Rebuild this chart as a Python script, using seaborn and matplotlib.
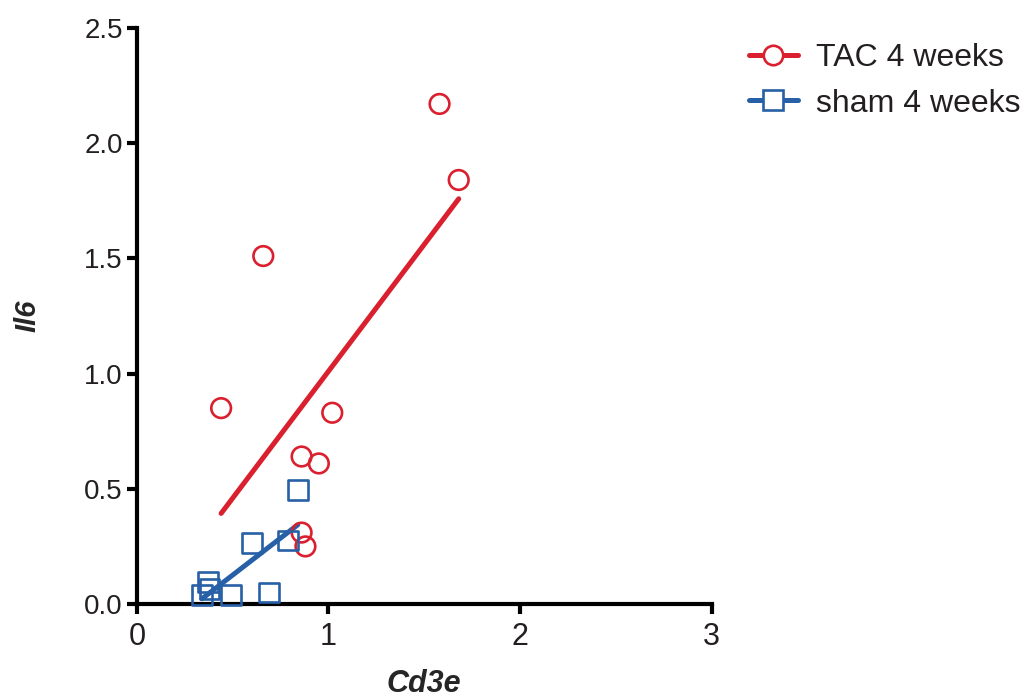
import numpy as np
import pandas as pd
import seaborn as sns
import matplotlib.pyplot as plt
from matplotlib.lines import Line2D

# values
tac_x = [1.58, 1.68, 0.66, 0.44, 1.02, 0.86, 0.95, 0.86, 0.88]
tac_y = [2.17, 1.84, 1.51, 0.85, 0.83, 0.64, 0.61, 0.31, 0.25]
sham_x = [0.37, 0.38, 0.34, 0.49, 0.69, 0.60, 0.79, 0.84]
sham_y = [0.095, 0.065, 0.04, 0.04, 0.05, 0.265, 0.275, 0.495]
groups = ["TAC 4 weeks", "sham 4 weeks"]
x_ticks = [0, 1, 2, 3]
y_ticks = [0.0, 0.5, 1.0, 1.5, 2.0, 2.5]


def main():
    sns.set_style("ticks")
    plt.rcParams["font.family"] = ["Liberation Sans", "DejaVu Sans"]
    plt.rcParams["text.color"] = "#231F20"
    plt.rcParams["xtick.color"] = "black"
    plt.rcParams["ytick.color"] = "black"

    red = "#DA1F2E"
    blue = "#2760A6"

    data = pd.DataFrame({
        "Cd3e": tac_x + sham_x,
        "Il6": tac_y + sham_y,
        "group": [groups[0]] * len(tac_x) + [groups[1]] * len(sham_x),
    })

    fig = plt.figure(figsize=(10.21, 6.97), dpi=100)
    ax = fig.add_axes([0.134, 0.1334, 0.563, 0.8266])

    styles = {groups[0]: (red, "o"), groups[1]: (blue, "s")}
    for g in groups:
        color, marker = styles[g]
        sub = data[data["group"] == g]
        sns.regplot(data=sub, x="Cd3e", y="Il6", ax=ax, scatter=False, ci=None,
                    truncate=True, color=color, line_kws={"lw": 3.6})
        ax.scatter(sub["Cd3e"], sub["Il6"], s=200, marker=marker,
                   facecolors="none", edgecolors=color, linewidths=1.9,
                   clip_on=False, zorder=3)

    ax.set_xlim(0, 3)
    ax.set_ylim(0, 2.5)
    ax.set_xticks(x_ticks)
    ax.set_yticks(y_ticks)
    ax.set_xticklabels([str(t) for t in x_ticks], fontsize=22, color="#231F20")
    ax.set_yticklabels([f"{t:.1f}" for t in y_ticks], fontsize=20,
                       color="#231F20")
    ax.tick_params(width=3, length=7, pad=3)
    ax.tick_params(axis="x", pad=6)
    for side in ["left", "bottom"]:
        ax.spines[side].set_linewidth(3)
        ax.spines[side].set_color("black")
    sns.despine(ax=ax)

    ax.set_xlabel("Cd3e", fontsize=22, fontweight="bold", style="italic",
                  labelpad=12)
    ax.set_ylabel("Il6", fontsize=21, fontweight="bold", style="italic",
                  labelpad=31)

    handles = [
        Line2D([], [], color=red, lw=3.6, marker="o", markersize=14,
               markerfacecolor="white", markeredgecolor=red, markeredgewidth=1.9),
        Line2D([], [], color=blue, lw=3.6, marker="s", markersize=14,
               markerfacecolor="white", markeredgecolor=blue, markeredgewidth=1.9),
    ]
    fig.legend(handles, groups, loc="upper left", bbox_to_anchor=(0.705, 0.98),
               frameon=False, fontsize=23, handlelength=1.55, labelspacing=0.5,
               handletextpad=0.55)

    fig.savefig("out.png", dpi=100)


if __name__ == "__main__":
    main()
